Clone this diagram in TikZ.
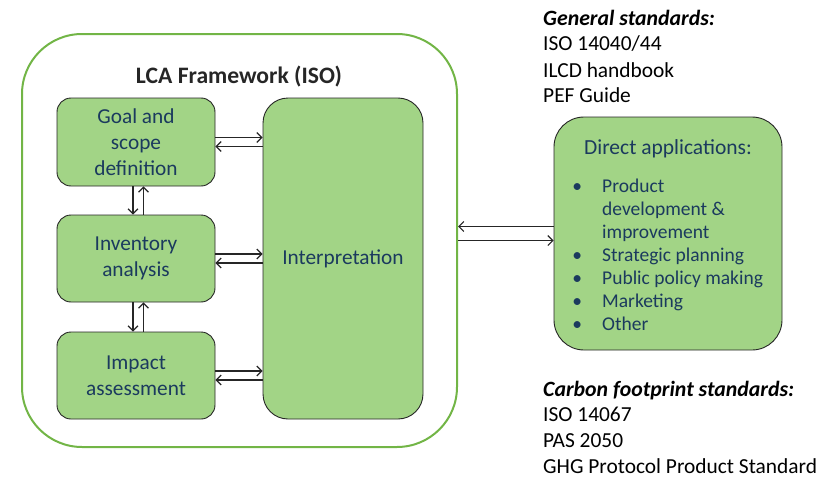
\documentclass[tikz,border=0pt]{standalone}
\usepackage{fontspec}
\setmainfont{Carlito}
\usetikzlibrary{arrows.meta,calc}
\definecolor{boxfill}{HTML}{A2D486}
\definecolor{framegreen}{HTML}{72B546}
\definecolor{navy}{HTML}{1B3A5E}
\definecolor{ink}{HTML}{262626}
\begin{document}
\begin{tikzpicture}[x=1pt,y=-1pt,
  stepbox/.style={draw=ink, line width=0.9pt, fill=boxfill, rounded corners=14pt,
    text=navy, align=center, font=\fontsize{21.3}{26}\selectfont, inner sep=0pt},
  arr/.style={-{Straight Barb[length=5pt,width=10pt]}, line width=1.1pt, draw=ink},
  stdline/.style={anchor=base west, inner sep=0pt, text=black, font=\fontsize{21.4}{26}\selectfont},
  stdhead/.style={stdline, font=\bfseries\itshape\fontsize{21.8}{26}\selectfont},
]
\useasboundingbox (0,0) rectangle (823,479);
% outer frame
\node[draw=framegreen, line width=2pt, rounded corners=60pt, minimum width=435pt, minimum height=413pt, inner sep=0pt] (frame) at (239.5,240.5) {};
\node[font=\bfseries\fontsize{23.6}{28}\selectfont, text=ink, anchor=base, inner sep=0pt] (title) at (239,83) {LCA Framework (ISO)};
% step boxes
\node[stepbox, minimum width=158pt, minimum height=88pt] (goal) at (136,142) {Goal and\\scope\\definition};
\node[stepbox, minimum width=158pt, minimum height=87pt] (inv) at (136,258.5) {Inventory\\analysis};
\node[stepbox, minimum width=158pt, minimum height=87pt] (imp) at (136,375.5) {Impact\\assessment};
\node[stepbox, rounded corners=25pt, minimum width=160pt, minimum height=321pt] (interp) at (343,258.5) {Interpretation};
% horizontal arrows
\foreach \b in {goal,inv,imp}{
  \draw[arr] ($(\b.east)+(0,-4.5)$) -- ($(\b.east -| interp.west)+(0,-4.5)$);
  \draw[arr] ($(\b.east -| interp.west)+(0,4.5)$) -- ($(\b.east)+(0,4.5)$);
}
% vertical arrows
\draw[arr] ($(goal.south)+(-3,0)$) -- ($(inv.north)+(-3,0)$);
\draw[arr] ($(inv.north)+(7.5,0)$) -- ($(goal.south)+(7.5,0)$);
\draw[arr] ($(inv.south)+(-3,0)$) -- ($(imp.north)+(-3,0)$);
\draw[arr] ($(imp.north)+(7.5,0)$) -- ($(inv.south)+(7.5,0)$);
% direct applications
\node[stepbox, rounded corners=30pt, minimum width=228pt, minimum height=233pt] (dapp) at (668,233.5) {};
\node[text=navy, font=\fontsize{21.5}{26}\selectfont, anchor=base, inner sep=0pt] (dhead) at (668,154) {Direct applications:};
\node[text=navy, font=\fontsize{19.5}{23}\selectfont, anchor=north west, inner sep=0pt] (dlist) at (565,176) {%
  \begin{tabular}{@{}l@{}l@{}}
  \makebox[24pt]{\textbullet}\hspace{13pt} & Product\\
   & development \&\\
   & improvement\\
  \makebox[24pt]{\textbullet}\hspace{13pt} & Strategic planning\\
  \makebox[24pt]{\textbullet}\hspace{13pt} & Public policy making\\
  \makebox[24pt]{\textbullet}\hspace{13pt} & Marketing\\
  \makebox[24pt]{\textbullet}\hspace{13pt} & Other
  \end{tabular}};
\draw[arr] ($(dapp.west)+(0,-7)$) -- ($(dapp.west -| frame.east)+(0,-7)$);
\draw[arr] ($(dapp.west -| frame.east)+(0,7)$) -- ($(dapp.west)+(0,7)$);
% standards
\node[stdhead] (gen) at (543,25) {General standards:};
\node[stdline] (gen1) at (543,50.5) {ISO 14040/44};
\node[stdline] (gen2) at (543,77) {ILCD handbook};
\node[stdline] (gen3) at (543,102) {PEF Guide};
\node[stdhead] (carb) at (543,396) {Carbon footprint standards:};
\node[stdline] (carb1) at (543,421) {ISO 14067};
\node[stdline] (carb2) at (543,447) {PAS 2050};
\node[stdline] (carb3) at (543,473) {GHG Protocol Product Standard};
\end{tikzpicture}
\end{document}
